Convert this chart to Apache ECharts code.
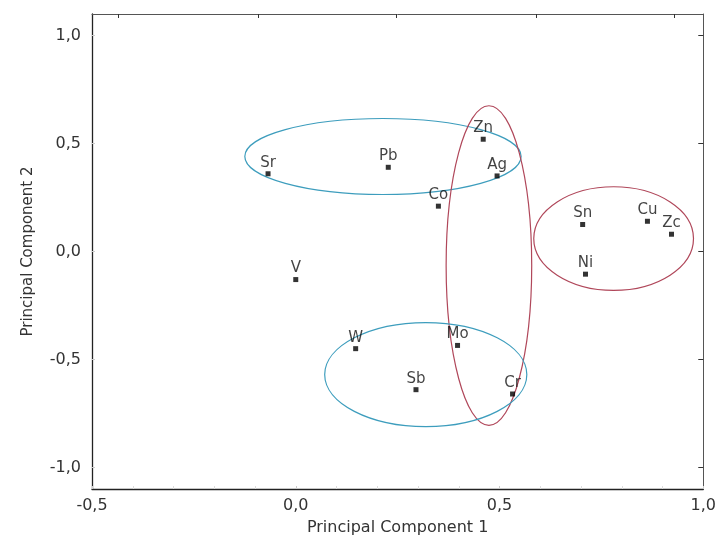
<!DOCTYPE html>
<html>
<head>
<meta charset="utf-8">
<script src="https://cdn.jsdelivr.net/npm/echarts@6/dist/echarts.min.js"></script>
<style>
  html, body { margin: 0; padding: 0; background: #fff; }
  #chart { width: 719px; height: 541px; }
</style>
</head>
<body>
<div id="chart"></div>
<script>
// element loadings
const elements = ['Sr', 'Pb', 'Zn', 'Ag', 'Co', 'Sn', 'Cu', 'Zc', 'Ni', 'V', 'W', 'Mo', 'Sb', 'Cr'];
const pc1 = [-0.068, 0.227, 0.46, 0.494, 0.35, 0.704, 0.863, 0.922, 0.711, 0.0, 0.147, 0.397, 0.295, 0.532];
const pc2 = [0.36, 0.39, 0.52, 0.35, 0.21, 0.125, 0.14, 0.08, -0.105, -0.13, -0.45, -0.435, -0.64, -0.66];

// group ellipses: centre and half-widths in axis units
const ellipseCx = [0.214, 0.474, 0.78, 0.319];
const ellipseCy = [0.44, -0.065, 0.06, -0.57];
const ellipseRx = [0.339, 0.105, 0.196, 0.248];
const ellipseRy = [0.176, 0.74, 0.24, 0.241];

// tick values
const xTicks = [-0.5, 0.0, 0.5, 1.0];
const yTicks = [-1.0, -0.5, 0.0, 0.5, 1.0];
const topTicks = [-0.435, -0.093, 0.247, 0.589, 0.929];

const ellipseColors = ['#3d9dbd', '#b0475a', '#b0475a', '#3d9dbd'];
const font = 'DejaVu Sans';

const fmt = v => v.toFixed(1).replace('.', ',');

const chart = echarts.init(document.getElementById('chart'));
chart.setOption({
  animation: false,
  grid: { left: 92, right: 15, top: 14, bottom: 52 },
  xAxis: [
    {
      type: 'value', min: -0.5, max: 1.0, interval: 0.5,
      name: 'Principal Component 1', nameLocation: 'middle', nameGap: 31,
      nameTextStyle: { fontSize: 16, color: '#333', fontFamily: font },
      axisLine: { show: true, onZero: false, lineStyle: { color: '#222', width: 1.3 } },
      axisTick: { show: true, inside: true, length: 3, lineStyle: { color: '#ccc' } },
      minorTick: { show: true, splitNumber: 5, length: 3, lineStyle: { color: '#ddd' } },
      axisLabel: { customValues: xTicks, formatter: fmt, fontSize: 16, color: '#333', margin: 9, fontFamily: font },
      splitLine: { show: false }
    },
    {
      type: 'value', min: -0.5, max: 1.0, position: 'top',
      axisLine: { show: true, onZero: false, lineStyle: { color: '#555', width: 1 } },
      axisTick: { show: true, inside: true, length: 4, customValues: topTicks, lineStyle: { color: '#333' } },
      axisLabel: { show: false },
      splitLine: { show: false }
    }
  ],
  yAxis: [
    {
      type: 'value', min: -1.1, max: 1.1,
      name: 'Principal Component 2', nameLocation: 'middle', nameGap: 56,
      nameTextStyle: { fontSize: 15, color: '#333', fontFamily: font },
      axisLine: { show: true, onZero: false, lineStyle: { color: '#222', width: 1.3 } },
      axisTick: { show: true, inside: true, length: 3, customValues: yTicks, lineStyle: { color: '#ccc' } },
      axisLabel: { customValues: yTicks, formatter: fmt, fontSize: 16, color: '#333', margin: 11, fontFamily: font },
      splitLine: { show: false }
    },
    {
      type: 'value', min: -1.1, max: 1.1, position: 'right',
      axisLine: { show: true, onZero: false, lineStyle: { color: '#555', width: 1 } },
      axisTick: { show: true, inside: true, length: 5, customValues: yTicks, lineStyle: { color: '#333' } },
      axisLabel: { show: false },
      splitLine: { show: false }
    }
  ],
  series: [
    {
      type: 'custom',
      xAxisIndex: 0, yAxisIndex: 0,
      silent: true,
      data: ellipseCx.map((cx, i) => [cx, ellipseCy[i], ellipseRx[i], ellipseRy[i], i]),
      encode: { x: 0, y: 1 },
      renderItem: function (params, api) {
        const c = api.coord([api.value(0), api.value(1)]);
        const s = api.size([api.value(2), api.value(3)]);
        return {
          type: 'ellipse',
          shape: { cx: c[0], cy: c[1], rx: s[0], ry: s[1] },
          style: { fill: 'none', stroke: ellipseColors[api.value(4)], lineWidth: 1.2 }
        };
      },
      z: 1
    },
    {
      type: 'scatter',
      xAxisIndex: 0, yAxisIndex: 0,
      symbol: 'rect',
      symbolSize: 5,
      itemStyle: { color: '#000' },
      data: elements.map((n, i) => ({ name: n, value: [pc1[i], pc2[i]] })),
      label: {
        show: true,
        position: 'top',
        distance: 1,
        formatter: '{b}',
        fontSize: 15,
        color: '#111',
        fontFamily: font
      },
      z: 3
    }
  ]
});
</script>
</body>
</html>
